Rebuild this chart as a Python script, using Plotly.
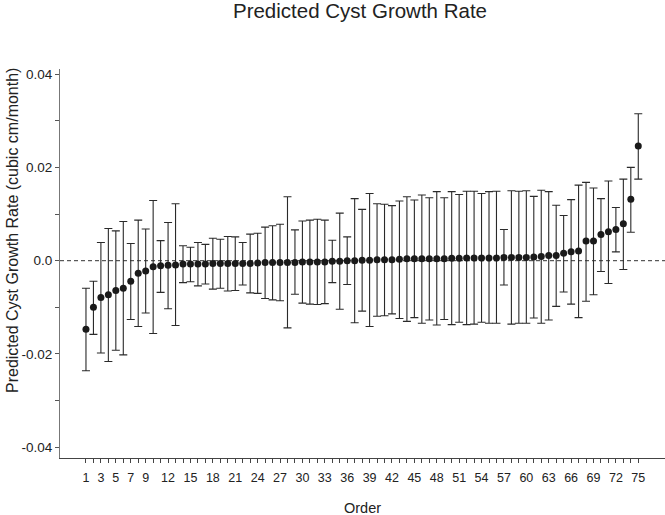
import plotly.graph_objects as go

order = list(range(1, 76))

predicted = [
    -0.0147, -0.0100, -0.0079, -0.0073, -0.0064, -0.0059, -0.0044, -0.0027, -0.0022, -0.0013,
    -0.0011, -0.0010, -0.0009, -0.0007, -0.0007, -0.0007, -0.0007, -0.0006, -0.0006, -0.0006,
    -0.0006, -0.0006, -0.0006, -0.0005, -0.0004, -0.0004, -0.0004, -0.0004, -0.0004, -0.0003,
    -0.0003, -0.0003, -0.0003, -0.0001, -0.0001, 0.0000, 0.0000, 0.0001, 0.0001, 0.0002,
    0.0002, 0.0002, 0.0003, 0.0004, 0.0004, 0.0004, 0.0004, 0.0004, 0.0004, 0.0005,
    0.0005, 0.0006, 0.0006, 0.0006, 0.0006, 0.0006, 0.0007, 0.0007, 0.0007, 0.0007,
    0.0008, 0.0009, 0.0011, 0.0011, 0.0016, 0.0019, 0.0021, 0.0042, 0.0042, 0.0056,
    0.0062, 0.0067, 0.0079, 0.0132, 0.0246,
]

upper = [
    -0.0059, -0.0044, 0.0039, 0.0069, 0.0064, 0.0084, 0.0037, 0.0087, 0.0068, 0.0129,
    0.0043, 0.0082, 0.0122, 0.0032, 0.0029, 0.0039, 0.0035, 0.0048, 0.0046, 0.0052,
    0.0051, 0.0039, 0.0057, 0.0059, 0.0072, 0.0075, 0.0078, 0.0137, 0.0066, 0.0085,
    0.0087, 0.0089, 0.0087, 0.0044, 0.0102, 0.0051, 0.0133, 0.0110, 0.0144, 0.0122,
    0.0121, 0.0118, 0.0128, 0.0137, 0.0130, 0.0141, 0.0135, 0.0148, 0.0135, 0.0148,
    0.0142, 0.0149, 0.0149, 0.0144, 0.0148, 0.0149, 0.0067, 0.0150, 0.0149, 0.0150,
    0.0138, 0.0151, 0.0148, 0.0119, 0.0097, 0.0131, 0.0162, 0.0168, 0.0156, 0.0133,
    0.0171, 0.0114, 0.0175, 0.0200, 0.0315,
]

lower = [
    -0.0236, -0.0158, -0.0198, -0.0216, -0.0192, -0.0202, -0.0126, -0.0141, -0.0112, -0.0156,
    -0.0068, -0.0103, -0.0139, -0.0047, -0.0045, -0.0054, -0.0050, -0.0061, -0.0059, -0.0065,
    -0.0064, -0.0052, -0.0069, -0.0070, -0.0081, -0.0084, -0.0086, -0.0144, -0.0072, -0.0091,
    -0.0093, -0.0094, -0.0092, -0.0047, -0.0104, -0.0051, -0.0133, -0.0108, -0.0141, -0.0119,
    -0.0118, -0.0114, -0.0124, -0.0130, -0.0122, -0.0134, -0.0127, -0.0138, -0.0126, -0.0137,
    -0.0132, -0.0137, -0.0136, -0.0132, -0.0134, -0.0134, -0.0052, -0.0136, -0.0134, -0.0134,
    -0.0123, -0.0134, -0.0127, -0.0098, -0.0067, -0.0093, -0.0122, -0.0087, -0.0073, -0.0023,
    -0.0049, 0.0019, -0.0019, 0.0061, 0.0175,
]

x_tick_labels = [1, 3, 5, 7, 9, 12, 15, 18, 21, 24, 27, 30, 33, 36, 39, 42, 45, 48,
                 51, 54, 57, 60, 63, 66, 69, 72, 75]
y_tick_vals = [-0.04, -0.03, -0.02, -0.01, 0.0, 0.01, 0.02, 0.03, 0.04]
y_tick_text = ["-0.04", "", "-0.02", "", "0.0", "", "0.02", "", "0.04"]

err_plus = [u - v for u, v in zip(upper, predicted)]
err_minus = [v - l for v, l in zip(predicted, lower)]

W, H = 665, 515
ML, MR, MT, MB = 60, 0, 69, 57
PW, PH = W - ML - MR, H - MT - MB

fig = go.Figure()
fig.add_trace(go.Scatter(
    x=order, y=predicted, mode="markers",
    marker=dict(color="#1a1a1a", size=7),
    error_y=dict(type="data", symmetric=False, array=err_plus, arrayminus=err_minus,
                 color="#2a2a2a", thickness=1.1, width=4),
    showlegend=False,
))

fig.add_shape(type="line", xref="paper", yref="y", x0=0, x1=1, y0=0, y1=0,
              line=dict(color="#333333", width=1, dash="4px,3px"), layer="below")

font_family = "Liberation Sans, Arial, sans-serif"

fig.add_annotation(text="Order", xref="paper", yref="paper",
                   x=(362 - ML) / PW, y=(MT + PH - 508) / PH,
                   xanchor="center", yanchor="middle", showarrow=False,
                   font=dict(size=14.5, color="#222222"))
fig.add_annotation(text="Predicted Cyst Growth Rate (cubic cm/month)", xref="paper", yref="paper",
                   x=(12 - ML) / PW, y=(MT + PH - 231) / PH, textangle=-90,
                   xanchor="center", yanchor="middle", showarrow=False,
                   font=dict(size=16, color="#222222"))

fig.update_layout(
    width=W, height=H,
    margin=dict(l=ML, r=MR, t=MT, b=MB),
    plot_bgcolor="white", paper_bgcolor="white",
    font=dict(family=font_family, color="#222222"),
    title=dict(text="Predicted Cyst Growth Rate", x=360 / W, xanchor="center", xref="container",
               y=1 - 11 / H, yanchor="middle", yref="container",
               font=dict(size=20.5, color="#222222")),
    xaxis=dict(
        range=[-2.48, 78.58], showgrid=False, zeroline=False, automargin=False,
        showline=True, linecolor="#444444", linewidth=1,
        tickmode="array", tickvals=order,
        ticktext=[str(o) if o in x_tick_labels else "" for o in order],
        ticks="outside", ticklen=4, tickcolor="#444444", tickfont=dict(size=12.5),
        ticklabelstandoff=4,
    ),
    yaxis=dict(
        range=[-0.0423, 0.0411], showgrid=False, zeroline=False, automargin=False,
        showline=True, linecolor="#777777", linewidth=1,
        tickmode="array", tickvals=y_tick_vals, ticktext=y_tick_text,
        ticks="outside", ticklen=4, tickcolor="#555555", tickfont=dict(size=13.5),
    ),
)

fig.write_html("out.html", config={"displayModeBar": False},
               post_script="document.body.style.margin='0';document.body.style.overflow='hidden';")
